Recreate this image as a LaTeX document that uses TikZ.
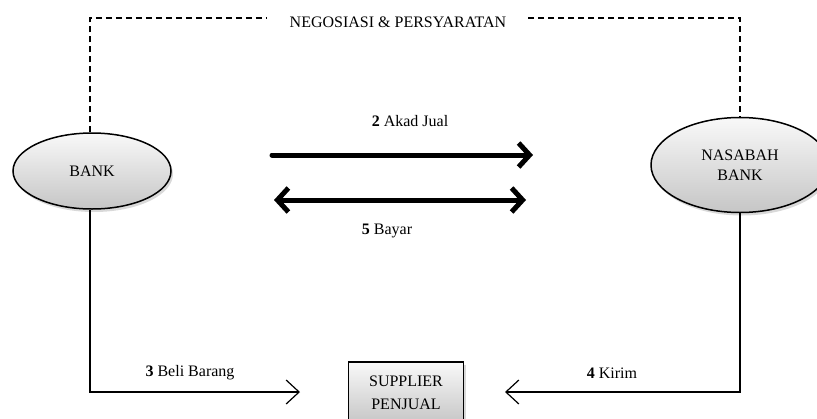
\documentclass[tikz,border=0pt]{standalone}
\usepackage{fontspec}
\setmainfont{Liberation Serif}
\usetikzlibrary{arrows.meta,shapes.geometric,shadows}
\tikzset{
  ent/.style={ellipse, draw=black, line width=1.5pt, top color=white!95!gray, bottom color=gray!45,
    drop shadow={shadow xshift=2pt, shadow yshift=-3pt, opacity=0.3, fill=gray}, font=\fontsize{16}{19}\selectfont, align=center, inner sep=0pt},
  boxnode/.style={rectangle, draw=black, line width=1.5pt, top color=white!95!gray, bottom color=gray!45,
    drop shadow={shadow xshift=2pt, shadow yshift=-3pt, opacity=0.3, fill=gray}, font=\fontsize{16}{19}\selectfont, align=center, inner sep=0pt},
  lbl/.style={font=\fontsize{16}{19}\selectfont, inner sep=1pt},
  thickarrow/.style={line width=5pt, line cap=round},
  thinarrow/.style={line width=1.2pt, -{Straight Barb[length=13pt, width=24pt, line width=1.2pt]}},
  dashline/.style={line width=1.4pt, dash pattern=on 6pt off 4pt}
}
\begin{document}
\begin{tikzpicture}[x=1pt,y=-1pt]
\useasboundingbox (0,0) rectangle (817,418);
\begin{scope}
\clip (0,0) rectangle (817,418);
% nodes
\node[ent, minimum width=158pt, minimum height=76pt] (bank) at (92,171) {BANK};
\node[ent, minimum width=178pt, minimum height=95pt] (nasabah) at (740,165) {NASABAH\\[1pt]BANK};
\node[boxnode, minimum width=115pt, minimum height=62pt] (supp) at (406,393) {SUPPLIER\\[4pt]PENJUAL};
% dashed negotiation
\node[lbl] (neg) at (398,22) {NEGOSIASI \& PERSYARATAN};
\coordinate (tl) at (90,18);
\coordinate (tr) at (740,18);
\coordinate (gl) at (267,18);
\coordinate (gr) at (528,18);
\draw[dashline] (bank.north -| tl) -- (tl) -- (gl);
\draw[dashline] (gr) -- (tr) -- (nasabah.north -| tr);
% thick arrows
\coordinate (a1s) at (272,155);
\coordinate (a1e) at (533,155);
\coordinate (a2s) at (274,200);
\coordinate (a2e) at (526,200);
\draw[thickarrow, -{Straight Barb[length=11pt, width=24pt, line width=5pt]}] (a1s) -- (a1e);
\draw[thickarrow, {Straight Barb[length=11pt, width=24pt, line width=5pt]}-{Straight Barb[length=11pt, width=24pt, line width=5pt]}] (a2s) -- (a2e);
\node[lbl] (akad) at (410,121) {\textbf{2} Akad Jual};
\node[lbl] (bayar) at (387,231) {\textbf{5} Bayar};
% bottom connectors
\coordinate (b1) at (90,392);
\coordinate (b1e) at (300,392);
\draw[thinarrow] (bank.south -| b1) -- (b1) -- (b1e);
\coordinate (b2) at (740,392);
\coordinate (b2e) at (505,392);
\draw[thinarrow] (nasabah.south -| b2) -- (b2) -- (b2e);
\node[lbl] (beli) at (190,373) {\textbf{3} Beli Barang};
\node[lbl] (kirim) at (612,373) {\textbf{4} Kirim};
\end{scope}
\end{tikzpicture}
\end{document}
